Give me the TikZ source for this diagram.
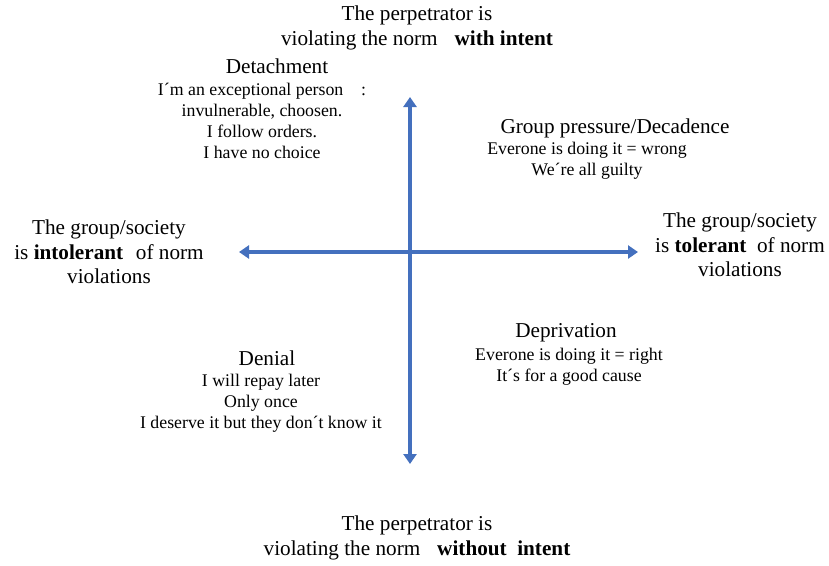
\documentclass[tikz,border=0pt]{standalone}
\usepackage{fontspec}
\setmainfont{Liberation Serif}
\usepackage{tikz}
\usetikzlibrary{positioning,arrows.meta}
\definecolor{axisblue}{RGB}{68,112,190}
\newcommand{\mainfont}{\fontsize{21.2}{24.3}\selectfont}
\newcommand{\bodyfont}{\fontsize{17.8}{20.8}\selectfont}

\begin{document}
\begin{tikzpicture}[x=1pt, y=-1pt,
    axis/.style={draw=axisblue, line width=3.6pt, {Triangle[width=13pt,length=10pt]}-{Triangle[width=13pt,length=10pt]}},
    headtext/.style={align=center, font=\mainfont, inner sep=0pt},
    bodytext/.style={align=center, font=\bodyfont, inner sep=0pt}]
    \useasboundingbox (0,0) rectangle (829,565);
    % axes
    \coordinate (top) at (410,97);
    \coordinate (bottom) at (410,464);
    \coordinate (left) at (239,252);
    \coordinate (right) at (638,252);
    \draw[axis] (bottom) -- (top);
    \draw[axis] (left) -- (right);
    % axis labels
    \node[headtext] (intent) at (417,28) {The perpetrator is\\violating the norm\hspace{0.8em}\textbf{with intent}};
    \node[headtext] (nointent) at (417,538) {The perpetrator is\\violating the norm\hspace{0.8em}\textbf{without}\hspace{0.5em}\textbf{intent}};
    \node[headtext] (intolerant) at (109,252) {The group/society\\is \textbf{intolerant}\hspace{0.6em}of norm\\violations};
    \node[headtext] (tolerant) at (740,245) {The group/society\\is \textbf{tolerant}\hspace{0.5em}of norm\\violations};
    % quadrants
    \node[headtext] (detach) at (277,66) {Detachment};
    \node[bodytext] (detachtxt) at (262,121) {I´m an exceptional person\hspace{1em}:\\invulnerable, choosen.\\I follow orders.\\I have no choice};
    \node[headtext] (pressure) at (615,128) {Group pressure/Decadence};
    \node[bodytext] (pressuretxt) at (587,160.5) {Everone is doing it = wrong\\We´re all guilty};
    \node[headtext] (depriv) at (566,333) {Deprivation};
    \node[bodytext] (deprivtxt) at (569,366.5) {Everone is doing it = right\\It´s for a good cause};
    \node[headtext] (denial) at (267,358) {Denial};
    \node[bodytext] (denialtxt) at (261,403) {I will repay later\\Only once\\I deserve it but they don´t know it};
\end{tikzpicture}
\end{document}
